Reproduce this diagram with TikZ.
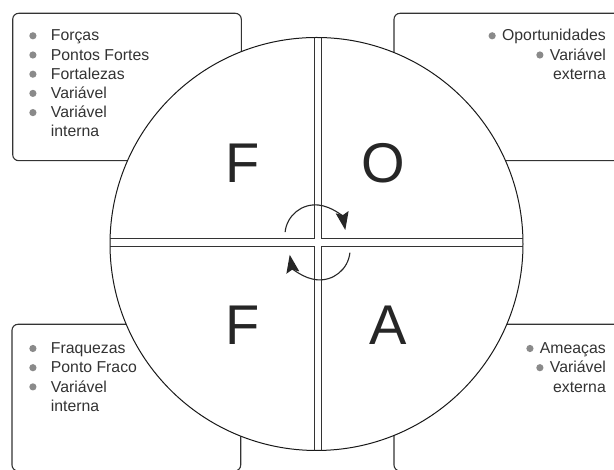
\documentclass[tikz,border=0pt]{standalone}
\usepackage{fontspec}
\setmainfont{Liberation Sans}
\usetikzlibrary{arrows.meta}
\definecolor{ink}{HTML}{333333}
\definecolor{bulgray}{HTML}{8A8A8A}
\newcommand{\bdot}{\tikz[baseline=-5.2pt]\fill[bulgray] (0,0) circle (3.6pt);}
\begin{document}
\begin{tikzpicture}[x=1pt,y=1pt,
  box/.style={draw=ink, line width=1.1pt, rounded corners=6pt, fill=white},
  txt/.style={inner sep=0pt, text=ink, font=\fontsize{15.8}{19}\selectfont},
  big/.style={inner sep=0pt, text=black!85, font=\fontsize{56}{60}\selectfont},
  rot/.style={line width=1.1pt, draw=black!85, -{Stealth[length=18pt,width=13pt,inset=3pt]}},
  cross/.style={line width=1pt, draw=black!80}]
\clip (0,0) rectangle (614,470);
% boxes
\draw[box] (12.7,309.3) rectangle (241.3,456.7);
\draw[box] (394,309.3) rectangle (640,456.7);
\draw[box] (12,-1) rectangle (240.7,145.7);
\draw[box] (394,-1) rectangle (640,145.7);
% texts top-left
\node[txt, anchor=base west] (tl1) at (29.1,429) {\bdot\hspace{14.4pt}Forças};
\node[txt, anchor=base west] (tl2) at (29.1,409.8) {\bdot\hspace{14.4pt}Pontos Fortes};
\node[txt, anchor=base west] (tl3) at (29.1,390.6) {\bdot\hspace{14.4pt}Fortalezas};
\node[txt, anchor=base west] (tl4) at (29.1,371.4) {\bdot\hspace{14.4pt}Variável};
\node[txt, anchor=base west] (tl5) at (29.1,352.2) {\bdot\hspace{14.4pt}Variável};
\node[txt, anchor=base west] (tl6) at (50.7,333) {interna};
% texts top-right
\node[txt, anchor=base east] (tr1) at (606,429) {\bdot\hspace{6.4pt}Oportunidades};
\node[txt, anchor=base east] (tr2) at (606,409.8) {\bdot\hspace{6.4pt}Variável};
\node[txt, anchor=base east] (tr3) at (606,390.6) {externa};
% texts bottom-left
\node[txt, anchor=base west] (bl1) at (29.1,116.3) {\bdot\hspace{14.4pt}Fraquezas};
\node[txt, anchor=base west] (bl2) at (29.1,97.1) {\bdot\hspace{14.4pt}Ponto Fraco};
\node[txt, anchor=base west] (bl3) at (29.1,77.9) {\bdot\hspace{14.4pt}Variável};
\node[txt, anchor=base west] (bl4) at (50.7,58.7) {interna};
% texts bottom-right
\node[txt, anchor=base east] (br1) at (606,116.3) {\bdot\hspace{6.4pt}Ameaças};
\node[txt, anchor=base east] (br2) at (606,97.1) {\bdot\hspace{6.4pt}Variável};
\node[txt, anchor=base east] (br3) at (606,77.9) {externa};
% circle
\node[circle, draw=black!90, fill=white, line width=1pt, minimum size=413pt, inner sep=0pt] (c) at (316.5,226) {};
\begin{scope}
  \clip (316.5,226) circle (206.5);
  \draw[cross] (100,231.7) -- (314,231.7) -- (314,440);
  \draw[cross] (321,440) -- (321,231.7) -- (530,231.7);
  \draw[cross] (100,223.5) -- (314,223.5) -- (314,10);
  \draw[cross] (321,10) -- (321,223.5) -- (530,223.5);
\end{scope}
% rotation arrows
\draw[rot] (285.1,237.9) arc[start angle=174, end angle=10, radius=30.4];
\draw[rot] (349.9,217.3) arc[start angle=-6, end angle=-170, radius=30.4];
% letters
\node[big, anchor=base] (f1) at (243,287) {F};
\node[big, anchor=base] (o1) at (383.5,287) {O};
\node[big, anchor=base] (f2) at (243,125) {F};
\node[big, anchor=base] (a1) at (388,125) {A};
\end{tikzpicture}
\end{document}
